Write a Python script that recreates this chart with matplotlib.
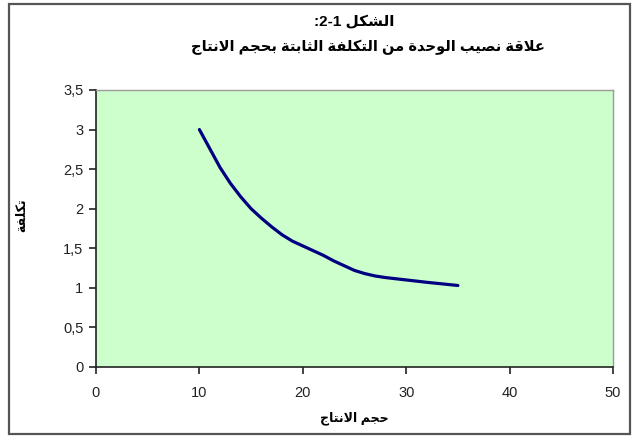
import re
import unicodedata

import matplotlib
matplotlib.use("Agg")
import matplotlib.pyplot as plt
from matplotlib.patches import Rectangle
from matplotlib.ticker import FuncFormatter

# ---- data -------------------------------------------------------------
output_volume = [10, 11, 12, 13, 14, 15, 16, 17, 18, 19, 20, 21, 22, 23, 24,
                 25, 26, 27, 28, 30, 32, 35]
unit_fixed_cost = [3.0, 2.76, 2.52, 2.32, 2.15, 2.0, 1.88, 1.77, 1.67, 1.59, 1.53,
                   1.47, 1.41, 1.34, 1.28, 1.22, 1.18, 1.15, 1.13, 1.10, 1.07, 1.03]

title_line1 = "الشكل 2-1:"
title_line2 = "علاقة نصيب الوحدة من التكلفة الثابتة بحجم الانتاج"
x_label = "حجم الانتاج"
y_label = "تكلفة"

x_ticks = [0, 10, 20, 30, 40, 50]
y_ticks = [0, 0.5, 1, 1.5, 2, 2.5, 3, 3.5]


# ---- minimal Arabic shaping (matplotlib lays glyphs out left to right) --
def _form(ch, form):
    try:
        return unicodedata.lookup(unicodedata.name(ch) + " " + form + " FORM")
    except (KeyError, ValueError):
        return None


def _is_ar(c):
    return "\u0621" <= c <= "\u064A"


def _dual(c):
    return _is_ar(c) and _form(c, "INITIAL") is not None


def shape(text):
    out, i, n = [], 0, len(text)
    forms = {(True, True): "MEDIAL", (True, False): "FINAL",
             (False, True): "INITIAL", (False, False): "ISOLATED"}
    while i < n:
        c = text[i]
        if not _is_ar(c):
            out.append(c)
            i += 1
            continue
        joins_prev = i > 0 and _dual(text[i - 1])
        if c == "ل" and i + 1 < n and text[i + 1] == "ا":
            kind = "FINAL" if joins_prev else "ISOLATED"
            out.append(unicodedata.lookup("ARABIC LIGATURE LAM WITH ALEF " + kind + " FORM"))
            i += 2
            continue
        joins_next = _dual(c) and i + 1 < n and _is_ar(text[i + 1])
        out.append(_form(c, forms[(joins_prev, joins_next)]) or c)
        i += 1
    return "".join(out)


def visual(text):
    runs = re.findall(r"[0-9][0-9\-]*[0-9]|[0-9]|.", shape(text))
    return "".join(reversed(runs))


FONT = ["Liberation Sans", "DejaVu Sans"]
plt.rcParams["font.family"] = FONT

W, H = 638, 438
fig = plt.figure(figsize=(W / 100, H / 100), dpi=100, facecolor="white")

# chart area border
fig.patches.append(Rectangle((9 / W, 4 / H), 621 / W, 430 / H, transform=fig.transFigure,
                             fill=False, edgecolor="#555555", linewidth=1.6))

ax = fig.add_axes([96 / W, 1 - 367 / H, 517 / W, 277 / H])
ax.set_facecolor("#CCFFCC")

ax.plot(output_volume, unit_fixed_cost, color="#000080", linewidth=2.3,
        solid_capstyle="round", solid_joinstyle="round")

ax.set_xlim(0, 50)
ax.set_ylim(0, 3.5)
ax.set_xticks(x_ticks)
ax.set_yticks(y_ticks)

comma = FuncFormatter(lambda v, _: (f"{v:g}").replace(".", ","))
ax.xaxis.set_major_formatter(comma)
ax.yaxis.set_major_formatter(comma)

for side in ("top", "right"):
    ax.spines[side].set_color("#9a9a9a")
    ax.spines[side].set_linewidth(1.0)
for side in ("left", "bottom"):
    ax.spines[side].set_color("#222222")
    ax.spines[side].set_linewidth(1.2)

ax.tick_params(axis="both", direction="out", length=5, width=1.2, color="#222222",
               labelsize=10.5, labelcolor="#222222", pad=4)
ax.tick_params(axis="x", pad=9)

fig.text(354 / W, 1 - 22 / H, visual(title_line1), ha="center", va="center",
         fontsize=11, fontweight="bold", family=FONT)
fig.text(368 / W, 1 - 47 / H, visual(title_line2), ha="center", va="center",
         fontsize=10.5, fontweight="bold", family=FONT)
fig.text(354 / W, 1 - 418 / H, visual(x_label), ha="center", va="center",
         fontsize=9, fontweight="bold", family=FONT)
fig.text(22 / W, 1 - 215 / H, visual(y_label), ha="center", va="center",
         fontsize=9, fontweight="bold", rotation=90, family=FONT)

fig.savefig("out.png", dpi=100, facecolor="white")
